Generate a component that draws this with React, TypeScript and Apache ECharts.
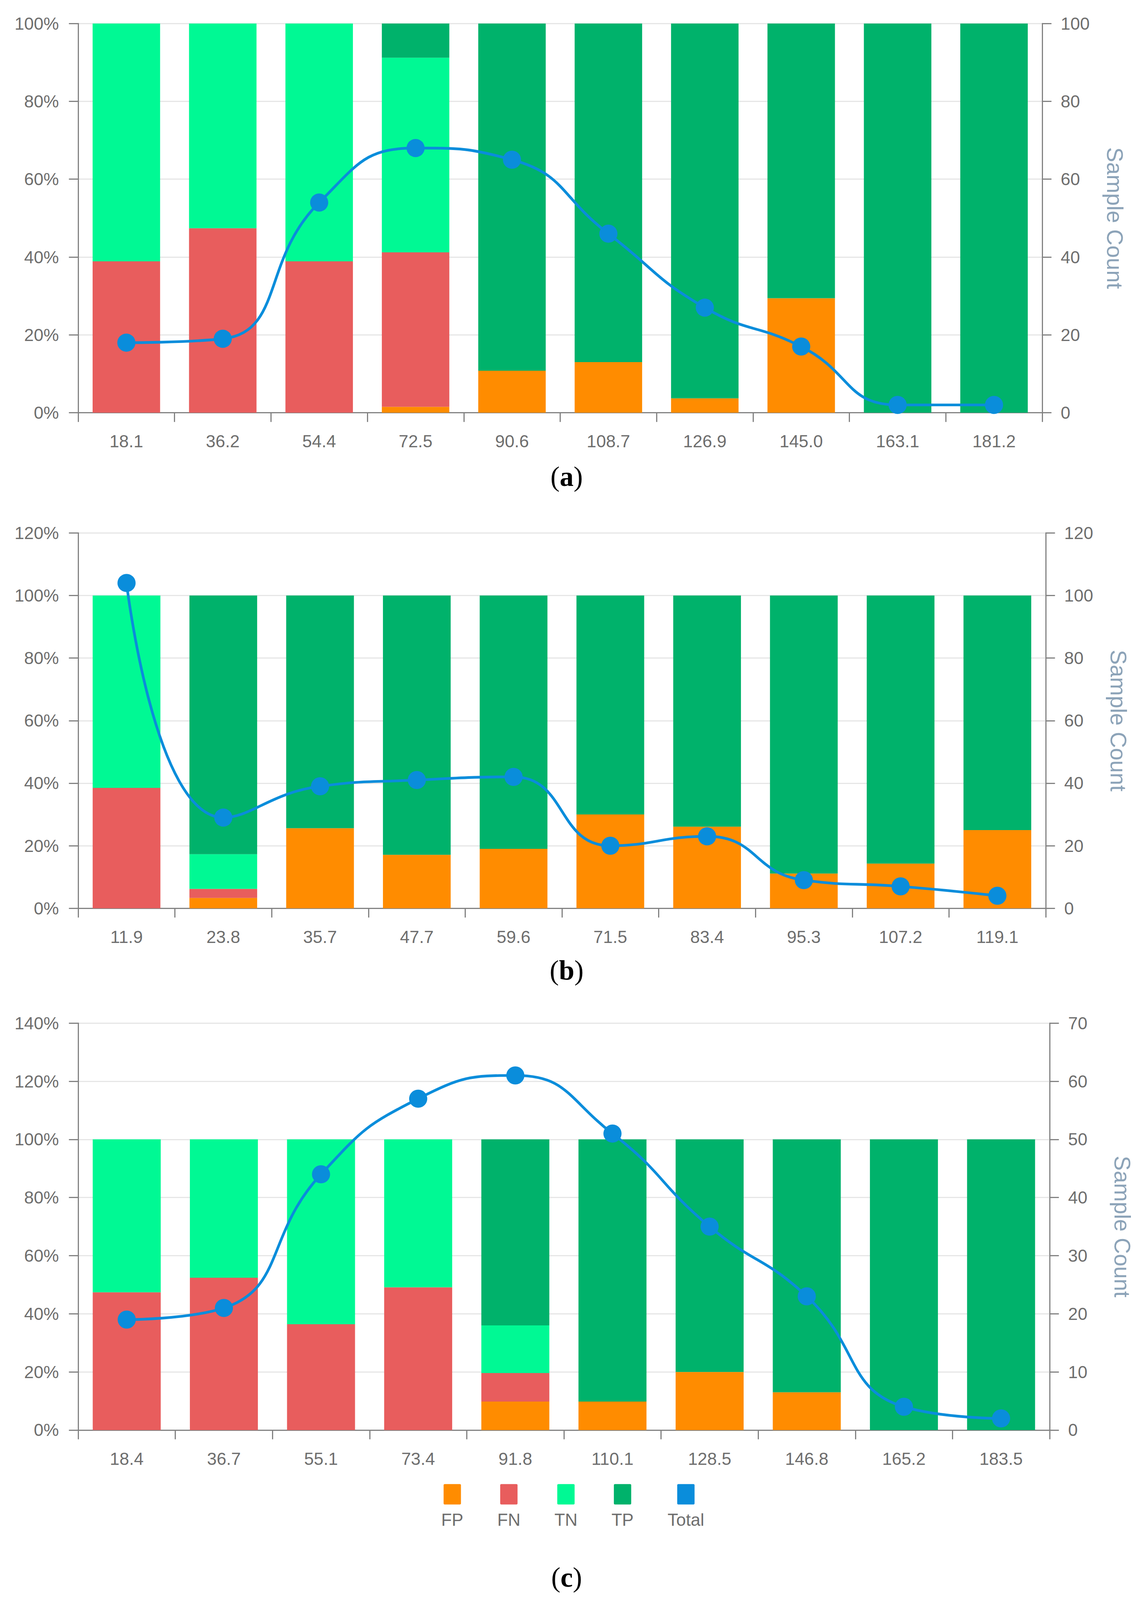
import React, { useEffect, useRef } from "react";
import * as echarts from "echarts";

const REF_W = 2930;
const REF_H = 4152;

// ---------- data ----------
const catsA = ["18.1", "36.2", "54.4", "72.5", "90.6", "108.7", "126.9", "145.0", "163.1", "181.2"];
const fpA = [0, 0, 0, 1.5, 10.8, 13.0, 3.7, 29.4, 0, 0];
const fnA = [38.9, 47.4, 38.9, 39.7, 0, 0, 0, 0, 0, 0];
const tnA = [61.1, 52.6, 61.1, 50.0, 0, 0, 0, 0, 0, 0];
const tpA = [0, 0, 0, 8.8, 89.2, 87.0, 96.3, 70.6, 100, 100];
const totalA = [18, 19, 54, 68, 65, 46, 27, 17, 2, 2];

const catsB = ["11.9", "23.8", "35.7", "47.7", "59.6", "71.5", "83.4", "95.3", "107.2", "119.1"];
const fpB = [0, 3.3, 25.6, 17.1, 19.0, 30.0, 26.1, 11.1, 14.3, 25.0];
const fnB = [38.5, 2.9, 0, 0, 0, 0, 0, 0, 0, 0];
const tnB = [61.5, 11.1, 0, 0, 0, 0, 0, 0, 0, 0];
const tpB = [0, 82.7, 74.4, 82.9, 81.0, 70.0, 73.9, 88.9, 85.7, 75.0];
const totalB = [104, 29, 39, 41, 42, 20, 23, 9, 7, 4];

const catsC = ["18.4", "36.7", "55.1", "73.4", "91.8", "110.1", "128.5", "146.8", "165.2", "183.5"];
const fpC = [0, 0, 0, 0, 9.8, 9.8, 20.0, 13.0, 0, 0];
const fnC = [47.4, 52.4, 36.4, 49.1, 9.8, 0, 0, 0, 0, 0];
const tnC = [52.6, 47.6, 63.6, 50.9, 16.4, 0, 0, 0, 0, 0];
const tpC = [0, 0, 0, 0, 64.0, 90.2, 80.0, 87.0, 100, 100];
const totalC = [19, 21, 44, 57, 61, 51, 35, 23, 4, 2];

const seriesNames = ["FP", "FN", "TN", "TP", "Total"];
const colors: Record<string, string> = {
  FP: "#FF8C00",
  FN: "#E85D5D",
  TN: "#00F994",
  TP: "#00B26B",
  Total: "#0A8DDB",
};

const pctAxes = [
  { max: 100, interval: 20 },
  { max: 120, interval: 20 },
  { max: 140, interval: 20 },
];
const cntAxes = [
  { max: 100, interval: 20 },
  { max: 120, interval: 20 },
  { max: 70, interval: 10 },
];
const panelLabels = ["a", "b", "c"];

// ---------- styling (reference pixel units) ----------
const FONT = "Liberation Sans";
const LABEL_COLOR = "#6E6E6E";
const AXIS_COLOR = "#828282";
const SPLIT_COLOR = "#E6E6E6";

const gridsRef = [
  { left: 200, right: 263, top: 61, height: 1010 },
  { left: 200, right: 254, top: 1383, height: 974 },
  { left: 200, right: 244, top: 2655, height: 1056 },
];
const titlePosRef = [
  { x: 1450, y: 1237 },
  { x: 1450, y: 2518 },
  { x: 1450, y: 4093 },
];

export default function App() {
  const ref = useRef<HTMLDivElement>(null);
  const vw = (typeof window !== "undefined" && window.innerWidth) || REF_W;
  const vh = (typeof window !== "undefined" && window.innerHeight) || REF_H;

  useEffect(() => {
    if (!ref.current) return;
    document.documentElement.style.overflow = "hidden";
    document.body.style.margin = "0";
    document.body.style.overflow = "hidden";

    const sx = vw / REF_W;
    const sy = vh / REF_H;
    const s = Math.min(sx, sy);
    const X = (v: number) => v * sx;
    const Y = (v: number) => v * sy;
    const S = (v: number) => v * s;

    const chart = echarts.init(ref.current, undefined, { renderer: "svg" });

    const panels = [
      { cats: catsA, fp: fpA, fn: fnA, tn: tnA, tp: tpA, total: totalA },
      { cats: catsB, fp: fpB, fn: fnB, tn: tnB, tp: tpB, total: totalB },
      { cats: catsC, fp: fpC, fn: fnC, tn: tnC, tp: tpC, total: totalC },
    ];

    const xAxis: any[] = [];
    const yAxis: any[] = [];
    const series: any[] = [];

    const axisLine = { show: true, lineStyle: { color: AXIS_COLOR, width: S(3) } };
    const axisTick = { show: true, length: S(24), lineStyle: { color: AXIS_COLOR, width: S(3) } };
    const labelStyle = { fontFamily: FONT, fontSize: S(45), color: LABEL_COLOR };

    panels.forEach((p, i) => {
      xAxis.push({
        type: "category",
        gridIndex: i,
        data: p.cats,
        boundaryGap: true,
        axisLine,
        axisTick: { ...axisTick, interval: 0, alignWithLabel: false },
        axisLabel: { ...labelStyle, margin: S(52), interval: 0 },
        splitLine: { show: false },
      });
      yAxis.push({
        type: "value",
        gridIndex: i,
        position: "left",
        min: 0,
        max: pctAxes[i].max,
        interval: pctAxes[i].interval,
        axisLine,
        axisTick,
        axisLabel: { ...labelStyle, margin: S(50), formatter: "{value}%" },
        splitLine: { show: true, lineStyle: { color: SPLIT_COLOR, width: S(3) } },
      });
      yAxis.push({
        type: "value",
        gridIndex: i,
        position: "right",
        min: 0,
        max: cntAxes[i].max,
        interval: cntAxes[i].interval,
        name: "Sample Count",
        nameLocation: "middle",
        nameRotate: -90,
        nameGap: S(160),
        nameTextStyle: { fontFamily: FONT, fontSize: S(58), color: "#8CA3B8" },
        axisLine,
        axisTick,
        axisLabel: { ...labelStyle, margin: S(48) },
        splitLine: { show: false },
      });

      const bars: [string, number[]][] = [
        ["FP", p.fp],
        ["FN", p.fn],
        ["TN", p.tn],
        ["TP", p.tp],
      ];
      bars.forEach(([name, data]) => {
        series.push({
          name,
          type: "bar",
          stack: "pct" + i,
          xAxisIndex: i,
          yAxisIndex: i * 2,
          barWidth: "70%",
          data,
          itemStyle: { color: colors[name] },
        });
      });
      series.push({
        name: "Total",
        type: "line",
        xAxisIndex: i,
        yAxisIndex: i * 2 + 1,
        smooth: true,
        symbol: "circle",
        symbolSize: S(47),
        data: p.total,
        lineStyle: { color: colors.Total, width: S(7) },
        itemStyle: { color: colors.Total },
        z: 5,
      });
    });

    const rich: Record<string, any> = {
      lbl: {
        fontFamily: FONT,
        fontSize: S(45),
        color: LABEL_COLOR,
        lineHeight: S(80),
        align: "center",
      },
    };
    seriesNames.forEach((n) => {
      rich["box" + n] = {
        width: S(45),
        height: S(53),
        lineHeight: S(53),
        backgroundColor: colors[n],
        borderRadius: S(3),
        align: "center",
      };
    });

    const graphic = panelLabels.map((l, i) => ({
      type: "text",
      x: X(titlePosRef[i].x),
      y: Y(titlePosRef[i].y),
      style: {
        text: "{p|(}{b|" + l + "}{p|)}",
        align: "center",
        verticalAlign: "middle",
        rich: {
          p: { fontFamily: "Liberation Serif", fontSize: S(72), color: "#000" },
          b: { fontFamily: "Liberation Serif", fontSize: S(72), fontWeight: "bold", color: "#000" },
        },
      },
    }));

    chart.setOption({
      animation: false,
      backgroundColor: "#ffffff",
      grid: gridsRef.map((g) => ({
        left: X(g.left),
        right: X(g.right),
        top: Y(g.top),
        height: Y(g.height),
      })),
      xAxis,
      yAxis,
      series,
      legend: {
        left: X(1118),
        top: Y(3846),
        itemGap: S(82),
        itemWidth: 1,
        itemHeight: 1,
        icon: "rect",
        itemStyle: { opacity: 0 },
        lineStyle: { opacity: 0 },
        data: seriesNames,
        formatter: (name: string) => "{box" + name + "| }\n{lbl|" + name + "}",
        textStyle: { rich },
      },
      graphic,
    });

    return () => chart.dispose();
  }, [vw, vh]);

  return (
    <div
      ref={ref}
      style={{ position: "absolute", left: 0, top: 0, width: vw, height: vh, background: "#fff" }}
    />
  );
}
